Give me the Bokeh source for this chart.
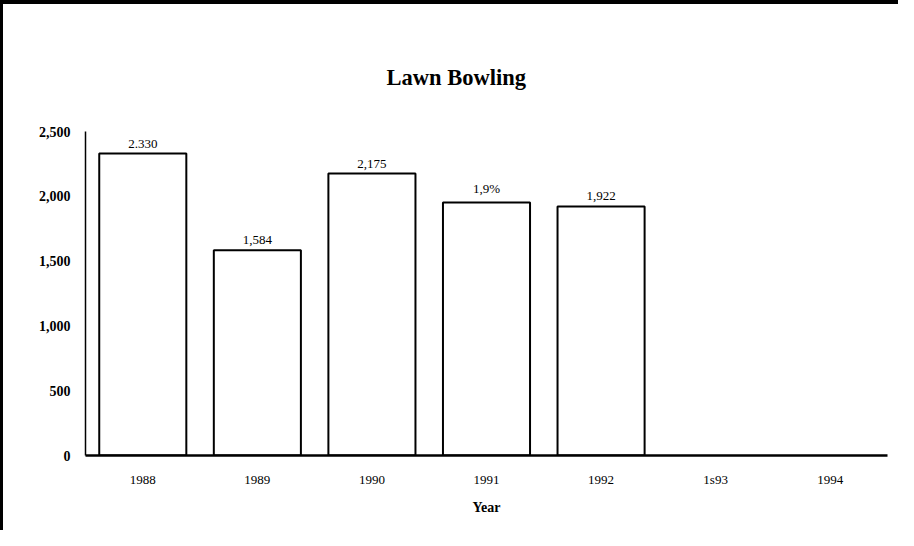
from bokeh.plotting import figure
from bokeh.models import ColumnDataSource, FixedTicker, NumeralTickFormatter, Title
from bokeh.core.properties import value
from bokeh.embed import file_html
from bokeh.resources import INLINE

# ---- data ----
years = ["1988", "1989", "1990", "1991", "1992", "1s93", "1994"]
bar_years = ["1988", "1989", "1990", "1991", "1992"]
counts = [2330, 1584, 2175, 1953, 1922]
count_labels = ["2.330", "1,584", "2,175", "1,9%", "1,922"]
y_ticks = [0, 500, 1000, 1500, 2000, 2500]

SERIF = "Liberation Serif"

src = ColumnDataSource(dict(x=bar_years, top=counts, lab=count_labels))

p = figure(width=898, height=530, x_range=years, y_range=(0, 2500),
           output_backend="svg", toolbar_location=None,
           min_border_left=82, min_border_right=14, min_border_top=127,
           min_border_bottom=79)
p.styles = {"border-top": "4px solid black", "border-left": "3px solid black",
            "box-sizing": "border-box"}

p.title = Title(text="Lawn Bowling", align="left", text_font=SERIF,
                text_font_size="22.5px", text_font_style="bold", standoff=83,
                offset=301, text_color="black")

p.vbar(x="x", top="top", width=0.76, source=src, fill_color="white",
       line_color="black", line_width=2)
p.text(x="x", y="top", text="lab", source=src, text_align="center",
       text_baseline="bottom", y_offset=-6, text_font=value(SERIF),
       text_font_size="13px", text_color="black")

p.x_range.range_padding = 0
p.xgrid.grid_line_color = None
p.ygrid.grid_line_color = None
p.outline_line_color = None

p.yaxis.ticker = FixedTicker(ticks=y_ticks)
p.yaxis.formatter = NumeralTickFormatter(format="0,0")
p.yaxis.major_tick_line_color = None
p.yaxis.minor_tick_line_color = None
p.yaxis.axis_line_color = "black"
p.yaxis.axis_line_width = 1.5
p.yaxis.major_label_text_font = SERIF
p.yaxis.major_label_text_font_size = "14px"
p.yaxis.major_label_text_font_style = "bold"
p.yaxis.major_label_text_color = "black"
p.yaxis.major_label_standoff = 9

p.xaxis.major_tick_line_color = None
p.xaxis.axis_line_color = "black"
p.xaxis.axis_line_width = 2.5
p.xaxis.major_label_text_font = SERIF
p.xaxis.major_label_text_font_size = "13px"
p.xaxis.major_label_text_color = "black"
p.xaxis.major_label_standoff = 10
p.xaxis.axis_label = "Year"
p.xaxis.axis_label_text_font = SERIF
p.xaxis.axis_label_text_font_size = "14px"
p.xaxis.axis_label_text_font_style = "bold"
p.xaxis.axis_label_text_color = "black"
p.xaxis.axis_label_standoff = 10

open("out.html", "w").write(file_html(p, INLINE))
